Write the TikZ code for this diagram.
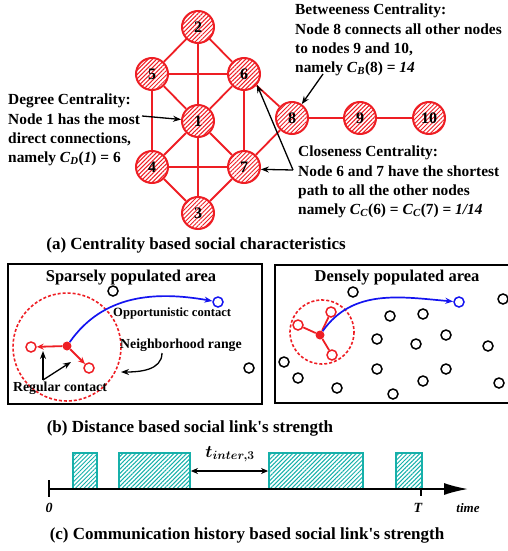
\documentclass[tikz,border=0pt]{standalone}
\usepackage{amsmath, amssymb}
\usepackage{fontspec}
\setmainfont{Liberation Serif}
\usepackage{tikz}
\usetikzlibrary{arrows.meta, patterns.meta}
\definecolor{linkred}{RGB}{238, 30, 36}
\definecolor{oppblue}{RGB}{20, 20, 240}
\definecolor{sessteal}{RGB}{22, 176, 170}
\newcommand{\cmeasure}[2]{\textit{C}\textsubscript{\textit{#1}}(#2)}

\tikzset{
  vertex/.style={circle, draw=linkred, line width=2pt, minimum size=32pt, inner sep=0pt,
    pattern={Lines[angle=45, distance=3pt, line width=1pt]}, pattern color=linkred,
    font=\bfseries\fontsize{16}{16}\selectfont},
  link/.style={linkred, line width=1.8pt},
  note/.style={align=left, inner sep=0pt, font=\bfseries\fontsize{15.4}{19.3}\selectfont},
  pointer/.style={-{Stealth[length=8pt, width=6pt]}, line width=1.3pt},
  caption/.style={inner sep=0pt, font=\bfseries\fontsize{17}{19}\selectfont},
  areatitle/.style={inner sep=0pt, font=\bfseries\fontsize{16.5}{18}\selectfont},
  frame/.style={line width=1.8pt},
  peer/.style={circle, draw, line width=1.5pt, minimum size=10pt, inner sep=0pt},
  nbr/.style={peer, draw=linkred},
  selfdot/.style={circle, fill=linkred, minimum size=9pt, inner sep=0pt},
  hoodring/.style={linkred, line width=1.6pt, dash pattern=on 3pt off 2pt},
  oppo/.style={oppblue, line width=1.7pt, -{Stealth[length=8pt, width=6pt]}},
  session/.style={draw=sessteal, line width=1.8pt, inner sep=0pt,
    pattern={Lines[angle=45, distance=3pt, line width=1pt]}, pattern color=sessteal},
  remark/.style={inner sep=0pt, font=\bfseries\fontsize{13.8}{15}\selectfont},
  timetag/.style={inner sep=0pt, font=\bfseries\itshape\fontsize{14}{14}\selectfont}
}

\begin{document}
\begin{tikzpicture}[x=1pt, y=-1pt]
  \useasboundingbox (0,0) rectangle (508,551);
  \clip (0,0) rectangle (508,551);

  \node[vertex] (n2) at (198,27) {2};
  \node[vertex] (n5) at (152,74) {5};
  \node[vertex] (n6) at (244,74) {6};
  \node[vertex] (n1) at (198,121) {1};
  \node[vertex] (n4) at (152,167) {4};
  \node[vertex] (n7) at (244,167) {7};
  \node[vertex] (n3) at (198,213) {3};
  \node[vertex] (n8) at (292,118) {8};
  \node[vertex] (n9) at (360,118) {9};
  \node[vertex] (n10) at (429,118) {10};
  \foreach \a/\b in {2/5, 2/6, 2/1, 5/6, 5/1, 6/1, 5/4, 6/7, 1/4, 1/7, 4/7, 1/3, 4/3, 7/3, 6/8, 7/8, 8/9, 9/10}
    \draw[link] (n\a) -- (n\b);

  \node[note, anchor=north west] (degtxt) at (8,94)
    {Degree Centrality:\\Node 1 has the most\\direct connections,\\namely \cmeasure{D}{\textit{1}} = 6};
  \node[note, anchor=north west] (bettxt) at (295,4)
    {Betweeness Centrality:\\Node 8 connects all other nodes\\to nodes 9 and 10,\\namely \cmeasure{B}{8} = \textit{14}};
  \node[note, anchor=north west] (clotxt) at (298,146)
    {Closeness Centrality:\\Node 6 and 7 have the shortest\\path to all the other nodes\\namely \cmeasure{C}{6} = \cmeasure{C}{7} = \textit{1/14}};
  \coordinate (degfoot) at (142,116);
  \coordinate (betfoot) at (323,74);
  \coordinate (clojoint) at (293,170);
  \draw[pointer] (degfoot) -- (n1);
  \draw[pointer] (betfoot) -- (n8);
  \draw[pointer] (clojoint) -- (n6.-40);
  \draw[pointer] (clojoint) -- (n7.-8);
  \node[caption] (capa) at (196,245) {(a) Centrality based social characteristics};

  \draw[frame] (8,264) rectangle (262,404);
  \draw[frame] (275,265) rectangle (520,403);

  \node[areatitle] (sparsetitle) at (131,278) {Sparsely populated area};
  \draw[hoodring] (67,347) circle (54);
  \node[selfdot] (sc) at (67,346) {};
  \node[nbr] (sl) at (31,347) {};
  \node[nbr] (sr) at (89,368) {};
  \node[peer, draw=oppblue] (sb) at (218,302) {};
  \node[peer] (sp1) at (113,291) {};
  \node[peer] (sp2) at (249,368) {};
  \draw[link, -{Stealth[length=7pt, width=6pt]}] (sc) -- (sl);
  \draw[link, -{Stealth[length=7pt, width=6pt]}] (sc) -- (sr);
  \draw[oppo] (sc) to[out=55, in=170] (sb);
  \node[remark, anchor=west, font=\bfseries\fontsize{12.6}{14}\selectfont] (oppotxt) at (113,313) {Opportunistic contact};
  \node[remark, anchor=west] (rangetxt) at (120,345) {Neighborhood range};
  \node[remark] (regtxt) at (60,388) {Regular contact};
  \coordinate (rangefoot) at (162,353);
  \coordinate (rangetip) at (121,372);
  \draw[pointer] (rangefoot) to[out=-90, in=0] (rangetip);
  \coordinate (regfoot) at (43,380);
  \coordinate (regtipa) at (43,351);
  \coordinate (regtipb) at (71,362);
  \draw[pointer] (regfoot) -- (regtipa);
  \draw[pointer] (regfoot) -- (regtipb);

  \node[areatitle] (densetitle) at (397,278) {Densely populated area};
  \draw[hoodring] (322,332) circle (32);
  \node[selfdot] (dc) at (320,335) {};
  \node[nbr] (dl1) at (331,312) {};
  \node[nbr] (dl2) at (298,325) {};
  \node[nbr] (dl3) at (332,355) {};
  \foreach \n in {dl1, dl2, dl3}
    \draw[link] (dc) -- (\n);
  \node[peer, draw=oppblue] (db) at (459,302) {};
  \draw[oppo] (dc) to[out=55, in=175] (db);
  \foreach \px/\py [count=\i] in {353/292, 390/316, 423/314, 503/299, 377/339, 416/344, 446/335, 488/346,
      284/362, 298/378, 337/388, 377/369, 393/394, 423/381, 446/369, 499/383}
    \node[peer] (dp\i) at (\px,\py) {};

  \node[caption] (capb) at (190,428) {(b) Distance based social link\textquotesingle s strength};

  \node[session, minimum width=24pt, minimum height=36pt] (s1) at (85,471) {};
  \node[session, minimum width=71pt, minimum height=36pt] (s2) at (154.5,471) {};
  \node[session, minimum width=94pt, minimum height=36pt] (s3) at (316,471) {};
  \node[session, minimum width=26pt, minimum height=36pt] (s4) at (409,471) {};
  \coordinate (origin) at (49,489);
  \coordinate (tend) at (421,489);
  \coordinate (axisend) at (468,489);
  \draw[line width=1.6pt, -{Latex[length=24pt, width=12pt]}] (origin) -- (axisend);
  \draw[line width=1.6pt] (49,480) -- (49,497);
  \draw[line width=1.6pt] (tend) -- (421,496);
  \draw[line width=1.3pt, {Stealth[length=7pt, width=6pt]}-{Stealth[length=7pt, width=6pt]}] (s2.east) -- (s3.west);
  \node[inner sep=0pt, font=\bfseries\boldmath\fontsize{17}{17}\selectfont] (gaptxt) at (230,454) {$t_{inter,3}$};
  \node[timetag] (zerotxt) at (49,508) {0};
  \node[timetag] (ttxt) at (418,508) {T};
  \node[timetag, font=\bfseries\itshape\fontsize{13}{13}\selectfont] (timetxt) at (468,508) {time};

  \node[caption] (capc) at (247,535) {(c) Communication history based social link\textquotesingle s strength};
\end{tikzpicture}
\end{document}
